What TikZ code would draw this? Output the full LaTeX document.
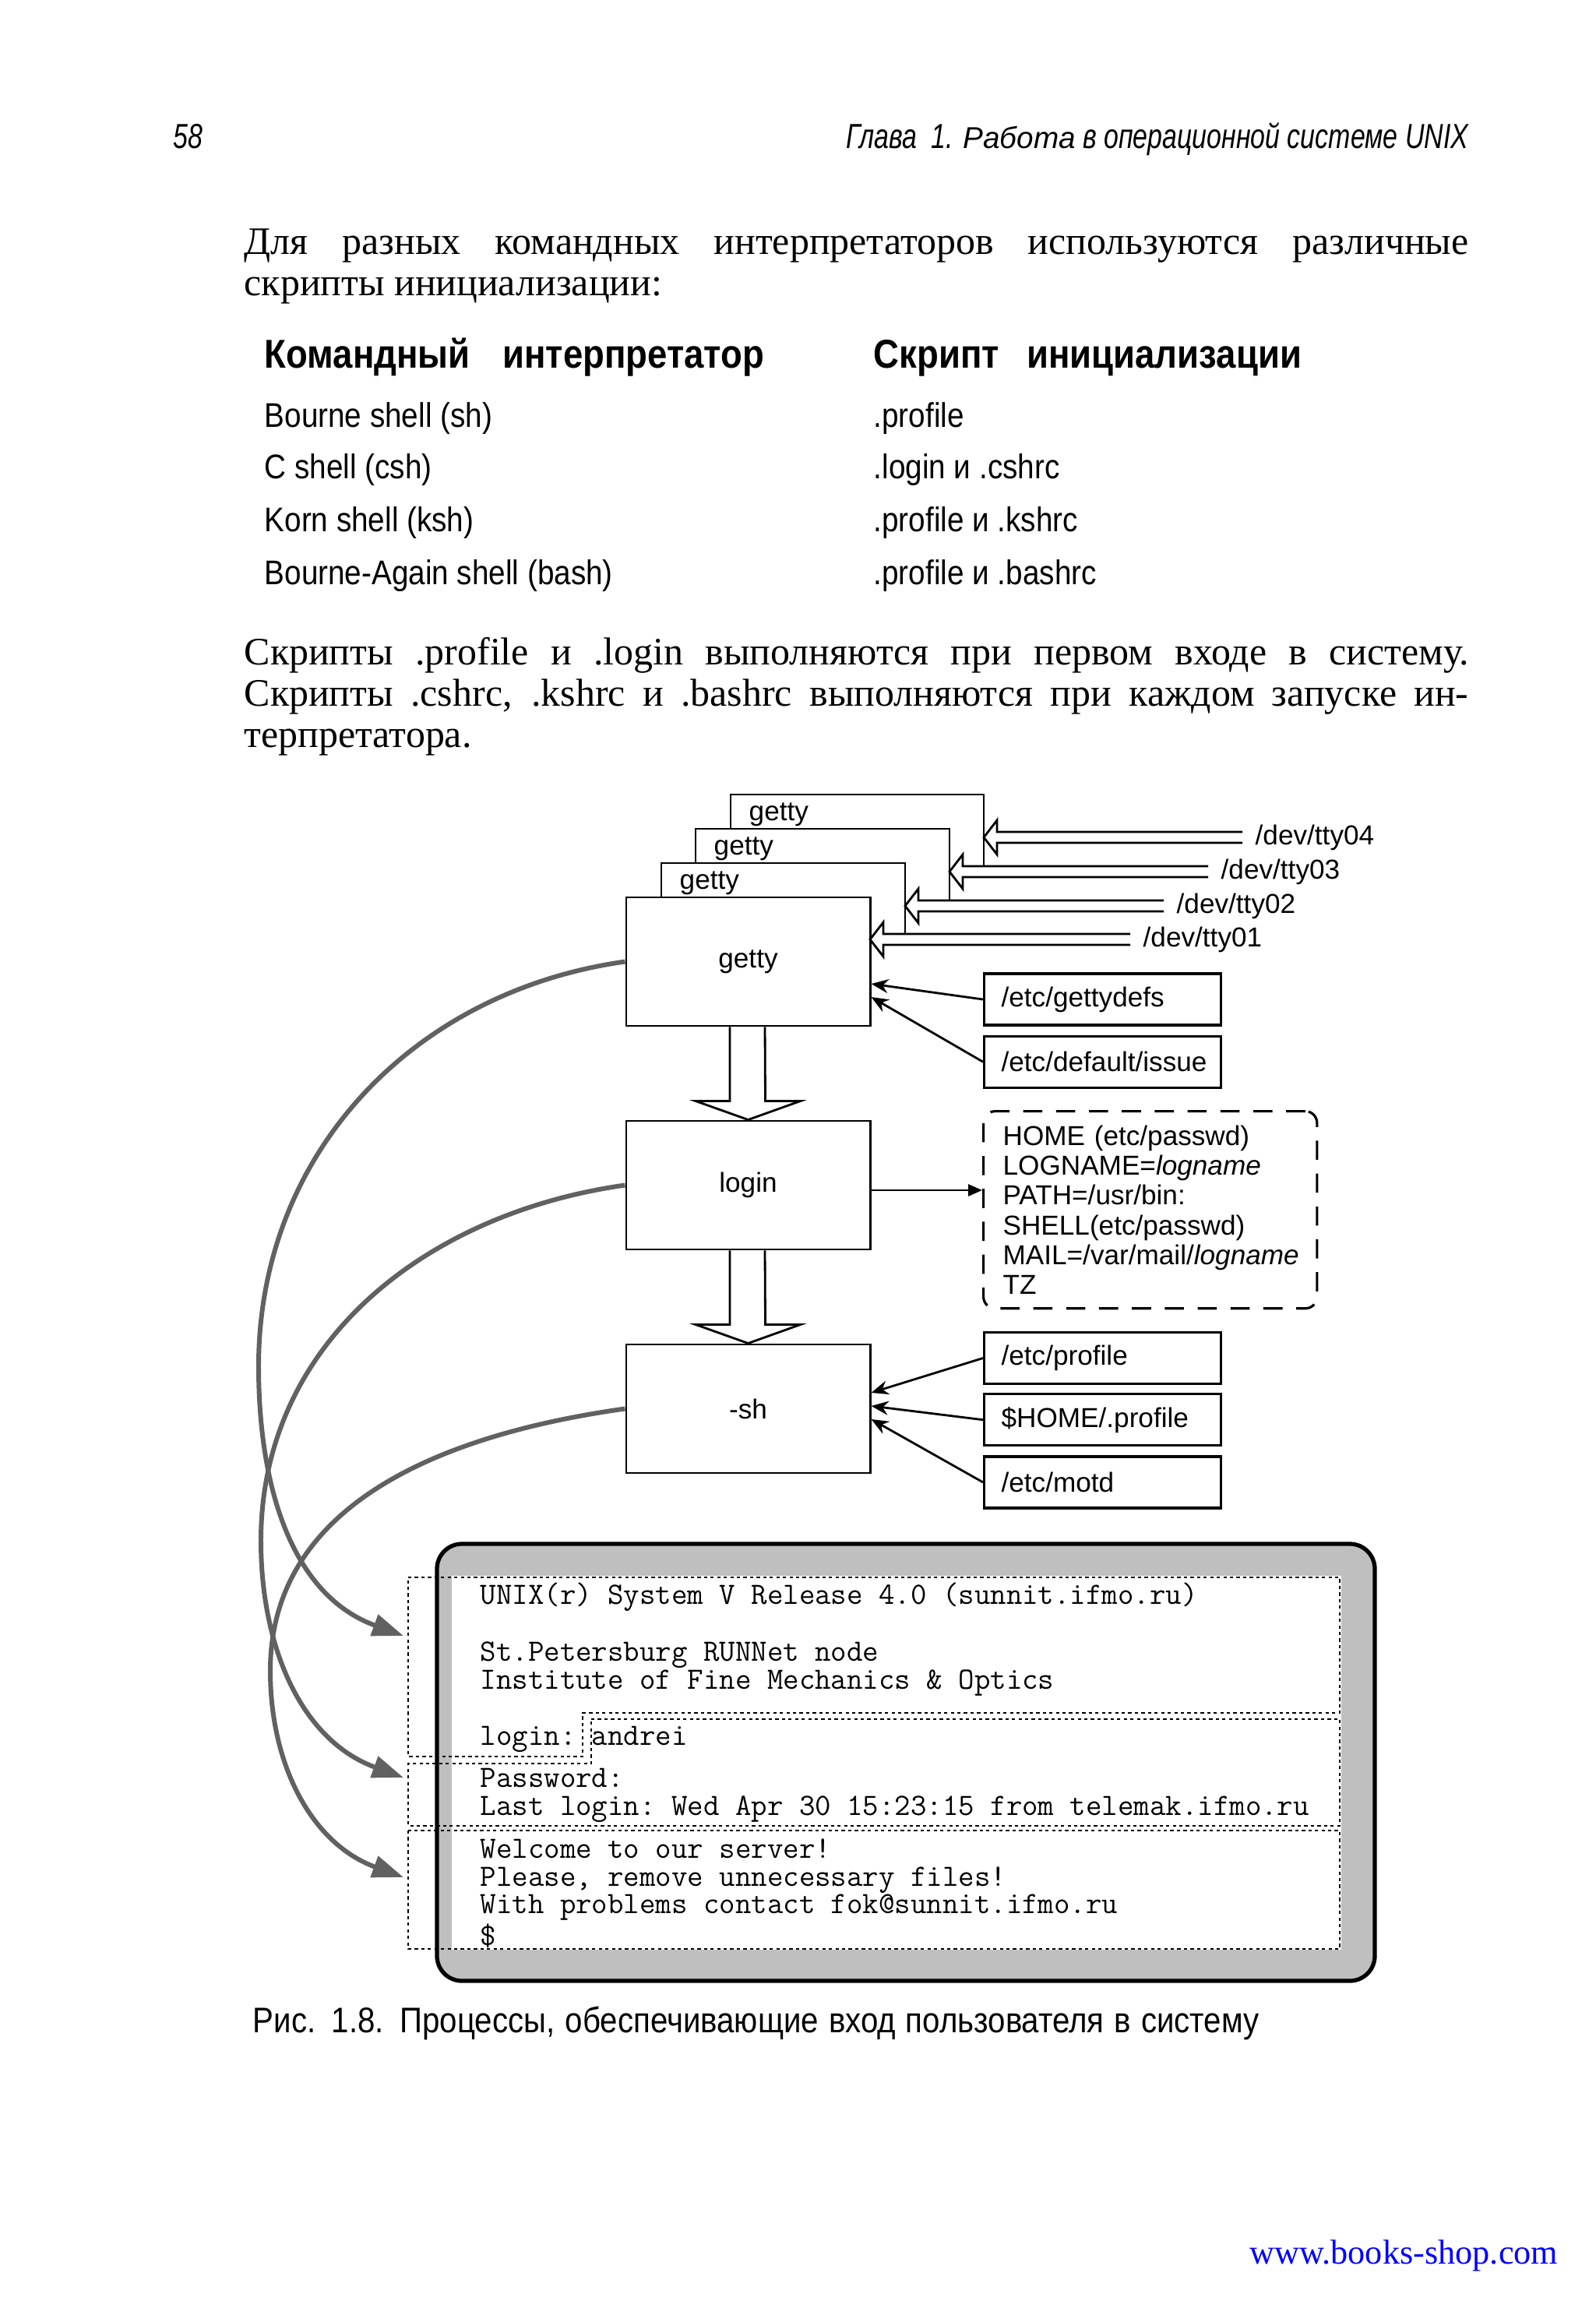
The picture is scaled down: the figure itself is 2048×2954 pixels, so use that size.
\documentclass[tikz,border=0pt]{standalone}
\usepackage{fontspec}
\setmainfont{Liberation Serif}
\newfontfamily\narrowsf[FakeStretch=0.88]{Liberation Sans}
\newfontfamily\headsf[FakeStretch=0.76]{Liberation Sans}
\newfontfamily\diagsf{Liberation Sans}
\usetikzlibrary{arrows.meta,positioning}
\tikzset{
  bodyline/.style={anchor=base west, inner sep=0pt, font=\fontsize{14.2}{16}\selectfont},
  tabtext/.style={anchor=base west, inner sep=0pt, font=\narrowsf\fontsize{12.5}{14}\selectfont},
  tabhead/.style={anchor=base west, inner sep=0pt, font=\narrowsf\bfseries\fontsize{14.7}{16}\selectfont},
  proc/.style={rectangle, draw, line width=0.8pt, fill=white, minimum width=3.13cm, minimum height=1.65cm, font=\diagsf\fontsize{10}{12}\selectfont},
  cfgfile/.style={rectangle, draw, line width=0.9pt, minimum height=0.66cm, text width=2.6cm, inner xsep=0.22cm, align=left, font=\diagsf\fontsize{10}{12}\selectfont},
  envbox/.style={rectangle, draw, line width=0.9pt, dash pattern=on 7pt off 5pt, rounded corners=1.5mm, minimum width=4.28cm, minimum height=2.53cm, text width=3.78cm, inner xsep=0.25cm, align=left, font=\diagsf\fontsize{10}{10.9}\selectfont},
  devlbl/.style={anchor=west, inner sep=0pt, font=\diagsf\fontsize{10}{12}\selectfont},
  backframe/.style={line width=0.8pt},
  hollow/.style={line width=0.8pt, line join=miter},
  fin/.style={-{Stealth[length=2.2mm, width=1.8mm]}, line width=0.8pt},
  feed/.style={-{Triangle[length=4mm, width=2.8mm]}, line width=1.7pt, color=black!62},
  termbox/.style={line width=1.5pt, fill=black!25, rounded corners=0.32cm},
  dotbox/.style={line width=0.45pt, dash pattern=on 1.2pt off 1.2pt},
  ttyline/.style={anchor=base west, inner sep=0pt, text height=6pt, text depth=1.5pt, font=\ttfamily\frenchspacing\fontsize{11.3}{13}\selectfont}
}

\begin{document}
\begin{tikzpicture}[x=0.01cm, y=-0.01cm, node distance=1.19cm]
\fill[white] (0,0) rectangle (2048,2954);
\useasboundingbox (0,0) rectangle (2048,2954);

% running head
\node[anchor=base west, inner sep=0pt, font=\headsf\itshape\fontsize{12.7}{14}\selectfont] (pgnum) at (222,190) {58};
\node[anchor=base east, inner sep=0pt, font=\headsf\itshape\fontsize{12.7}{14}\selectfont] (runhead) at (1886,190)
  {Глава\ \ 1. {\diagsf\fontsize{11}{13}\selectfont Работа} в операционной системе UNIX};

% text before the table
\node[bodyline] (p1a) at (313,326) {\makebox[15.71cm][s]{Для разных командных интерпретаторов используются различные}};
\node[bodyline] (p1b) at (313,379) {скрипты инициализации:};

% table
\node[tabhead] (h1) at (339,472) {\makebox[6.41cm][s]{Командный интерпретатор}};
\node[tabhead] (h2) at (1121,472) {\makebox[5.49cm][s]{Скрипт инициализации}};
\node[tabtext] (r1a) at (339,548) {Bourne shell (sh)};
\node[tabtext] (r1b) at (1121,548) {.profile};
\node[tabtext] (r2a) at (339,614) {C shell (csh)};
\node[tabtext] (r2b) at (1121,614) {.login и .cshrc};
\node[tabtext] (r3a) at (339,682) {Korn shell (ksh)};
\node[tabtext] (r3b) at (1121,682) {.profile и .kshrc};
\node[tabtext] (r4a) at (339,750) {Bourne-Again shell (bash)};
\node[tabtext] (r4b) at (1121,750) {.profile и .bashrc};

% text after the table
\node[bodyline] (p2a) at (313,853) {\makebox[15.71cm][s]{Скрипты .profile и .login выполняются при первом входе в систему.}};
\node[bodyline] (p2b) at (313,906) {\makebox[15.71cm][s]{Скрипты .cshrc, .kshrc и .bashrc выполняются при каждом запуске ин-}};
\node[bodyline] (p2c) at (313,959) {терпретатора.};

% getty copies behind
\foreach \lx/\rx/\tp/\nt/\k in {938/1263/1020/1064/3, 893/1219/1064/1108/2, 849/1162/1108/1152/1}{
  \draw[backframe] (\lx,\nt) -- (\lx,\tp) -- (\rx,\tp) -- (\rx,\tp+92);
  \node[anchor=base west, inner sep=0pt, font=\diagsf\fontsize{10}{12}\selectfont] (getty\k) at (\lx+23,\tp+33) {getty};
}

% processes
\node[proc] (getty) at (960.5,1234.5) {getty};
\node[proc, below=of getty] (login) {login};
\node[proc, below=of login] (sh) {-sh};

% terminal lines
\foreach \n/\tx/\ty/\ex in {04/1263/1075/1595, 03/1219/1119/1551, 02/1162/1163/1494, 01/1117/1206/1451}{
  \node[devlbl] (tty\n) at (\ex+16,\ty) {/dev/tty\n};
  \draw[hollow] (\ex,\ty-7) -- (\tx+17,\ty-7) -- (\tx+17,\ty-22) -- (\tx,\ty)
    -- (\tx+17,\ty+22) -- (\tx+17,\ty+7) -- (\ex,\ty+7);
}

% files read by getty
\node[cfgfile, anchor=west] (gettydefs) at (1262,1283) {/etc/gettydefs};
\node[cfgfile, below=0.11cm of gettydefs] (issue) {/etc/default/issue};
\draw[fin] (gettydefs.west) -- ([yshift=-0.285cm]getty.east);
\draw[fin] (issue.west) -- ([yshift=-0.455cm]getty.east);

% environment set by login
\node[envbox, anchor=north west] (env) at (1261,1425) {HOME (etc/passwd)\\
  LOGNAME=\textit{logname}\\
  PATH=/usr/bin:\\
  SHELL(etc/passwd)\\
  MAIL=/var/mail/\textit{logname}\\
  TZ};
\coordinate (lo) at ([yshift=-0.065cm]login.east);
\draw[-{Triangle[length=1.8mm, width=1.5mm]}, line width=0.8pt] (lo) -- (lo -| env.west);

% files read by the shell
\node[cfgfile, anchor=west] (profile) at (1262,1743.5) {/etc/profile};
\node[cfgfile, below=0.1cm of profile] (homeprof) {\$HOME/.profile};
\node[cfgfile, below=0.11cm of homeprof] (motd) {/etc/motd};
\draw[fin] (profile.west) -- ([yshift=0.205cm]sh.east);
\draw[fin] (homeprof.west) -- ([yshift=0.035cm]sh.east);
\draw[fin] (motd.west) -- ([yshift=-0.135cm]sh.east);

% hollow arrows down
\draw[hollow] ([xshift=-0.235cm]getty.south) -- ++(0,95) -- ++(-44,0) -- (login.north)
  -- ++(67,-24) -- ++(-45,0) -- ([xshift=0.215cm]getty.south);
\draw[hollow] ([xshift=-0.235cm]login.south) -- ++(0,95) -- ++(-44,0) -- (sh.north)
  -- ++(67,-24) -- ++(-45,0) -- ([xshift=0.215cm]login.south);

% screen
\draw[termbox] (561,1982) rectangle (1765,2543);
\fill[white] (580,2023) rectangle (1722,2503);
\draw[dotbox] (524,2025) -- (1720,2025) -- (1720,2199) -- (748,2199) -- (748,2255) -- (524,2255) -- cycle;
\draw[dotbox] (759,2207) -- (1720,2207) -- (1720,2344) -- (524,2344) -- (524,2264) -- (759,2264) -- cycle;
\draw[dotbox] (524,2350) rectangle (1720,2502);
\coordinate (inA) at (518,2100);
\coordinate (inB) at (518,2282);
\coordinate (inC) at (518,2410);

\node[ttyline] (t1) at (616,2059) {UNIX(r) System V Release 4.0 (sunnit.ifmo.ru)};
\node[ttyline] (t2) at (616,2132) {St.Petersburg RUNNet node};
\node[ttyline] (t3) at (616,2168) {Institute of Fine Mechanics \& Optics};
\node[ttyline] (t4) at (616,2240) {login: andrei};
\node[ttyline] (t5) at (616,2294) {Password:};
\node[ttyline] (t6) at (616,2330) {Last login: Wed Apr 30 15:23:15 from telemak.ifmo.ru};
\node[ttyline] (t7) at (616,2385) {Welcome to our server!};
\node[ttyline] (t8) at (616,2421) {Please, remove unnecessary files!};
\node[ttyline] (t9) at (616,2456) {With problems contact fok@sunnit.ifmo.ru};
\node[ttyline] (t10) at (616,2497) {\$};

% who writes what
\draw[feed] (getty.west) to[out=188, in=90] (332,1754) to[out=-90, in=160] (inA);
\draw[feed] (login.west) to[out=188, in=90] (335,1978) to[out=-90, in=160] (inB);
\draw[feed] (sh.west) to[out=188, in=90] (347,2145) to[out=-90, in=160] (inC);

% caption and footer
\node[anchor=base west, inner sep=0pt, font=\narrowsf\fontsize{13}{15}\selectfont] (caption) at (324,2609)
  {\makebox[12.91cm][s]{Рис. 1.8. Процессы, обеспечивающие вход пользователя в систему}};
\node[anchor=base east, inner sep=0pt, text=blue, font=\fontsize{12.6}{14}\selectfont] (url) at (2001,2906) {www.books-shop.com};
\end{tikzpicture}
\end{document}
